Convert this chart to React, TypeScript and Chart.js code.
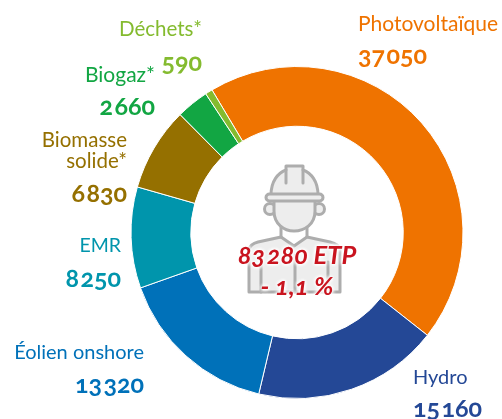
import React, { useEffect, useRef } from "react";
import { Chart, registerables } from "chart.js";

Chart.register(...registerables);

const categories = ["Photovoltaïque", "Hydro", "Éolien onshore", "EMR", "Biomasse solide*", "Biogaz*", "Déchets*"];
const values = [37050, 15160, 13320, 8250, 6830, 2660, 590];
const valueLabels = ["37\u200A050", "15\u200A160", "13\u200A320", "8\u200A250", "6\u200A830", "2\u200A660", "590"];
const colors = ["#EF7300", "#244896", "#0071B9", "#0095AC", "#957000", "#12A643", "#84BB2F"];
const total = "83\u200A280 ETP";
const change = "- 1,1 %";

type Pos = { side: "left" | "right"; x: number; nameY: number; valueY: number; nameSize: number; lines?: string[] };
const positions: Pos[] = [
  { side: "left", x: 358, nameY: 23, valueY: 54, nameSize: 21 },
  { side: "left", x: 413, nameY: 376, valueY: 407, nameSize: 20 },
  { side: "right", x: 144, nameY: 351, valueY: 383, nameSize: 20 },
  { side: "right", x: 121, nameY: 245, valueY: 277, nameSize: 19.5 },
  { side: "right", x: 127, nameY: 139, valueY: 192, nameSize: 20.5, lines: ["Biomasse", "solide*"] },
  { side: "right", x: 155, nameY: 74, valueY: 105, nameSize: 21 },
  { side: "right", x: 202, nameY: 28, valueY: 61, nameSize: 20.5 },
];

const FONT = "Lato, 'Open Sans', sans-serif";

function Label({ i }: { i: number }) {
  const p = positions[i];
  const base: React.CSSProperties = {
    position: "absolute",
    whiteSpace: "nowrap",
    color: colors[i],
    fontFamily: FONT,
    lineHeight: "22px",
    transform: "translateY(-50%)",
    ...(p.side === "left" ? { left: p.x } : { right: 502 - p.x }),
  };
  const lines = p.lines ?? [categories[i]];
  return (
    <>
      {lines.map((t, k) => (
        <div key={k} style={{ ...base, top: p.nameY + k * 21, fontSize: p.nameSize }}>{t}</div>
      ))}
      <div style={{ ...base, top: p.valueY, fontSize: 25, fontWeight: 700, fontVariantNumeric: "oldstyle-nums" }}>
        {valueLabels[i]}
      </div>
    </>
  );
}

function Worker() {
  const g = "#ADADAD";
  return (
    <svg width={502} height={419} style={{ position: "absolute", left: 0, top: 0 }}>
      <g fill="#EDEDED" stroke={g} strokeWidth={3} strokeLinejoin="round" strokeLinecap="round">
        <path d="M249 292 L249 250 Q250 244 258 242 L281 237 L294 246 L307 237 L330 242 Q339 244 340 250 L340 292 Z" />
        <path d="M281 226 L281 237 M307 226 L307 237" fill="none" />
        <path d="M261 292 L261 262 M295 292 L295 255 M328 292 L328 262" fill="none" />
        <circle cx={270} cy={209} r={5.5} />
        <circle cx={319} cy={209} r={5.5} />
        <path d="M274 198 L274 211 C274 224 284 231 294 231 C305 231 315 224 315 211 L315 198 Z" />
        <path d="M271 195 C271 181 278 173 286 170 L286 166 L303 166 L303 170 C311 173 318 181 318 195 Z" />
        <path d="M286 170 L286 183 M303 170 L303 183" fill="none" />
        <rect x={266} y={194} width={57} height={7} rx={3.5} />
      </g>
    </svg>
  );
}

export default function App() {
  const ref = useRef<HTMLCanvasElement | null>(null);
  useEffect(() => {
    const chart = new Chart(ref.current!, {
      type: "doughnut",
      data: {
        labels: categories,
        datasets: [{ data: values, backgroundColor: colors, borderColor: "#ffffff", borderWidth: 1 }],
      },
      options: {
        animation: false,
        responsive: false,
        cutout: "64%",
        rotation: -30.8,
        layout: { padding: { left: 130, right: 38, top: 66, bottom: 20 } },
        plugins: { legend: { display: false }, tooltip: { enabled: false } },
      },
    });
    return () => chart.destroy();
  }, []);

  const halo = "0 0 3px #fff, 0 0 3px #fff, 0 0 4px #fff, 0 0 4px #fff, 0 0 5px #fff";
  const center: React.CSSProperties = {
    position: "absolute",
    left: 197,
    width: 200,
    textAlign: "center",
    color: "#C9141F",
    fontFamily: FONT,
    fontWeight: 700,
    fontStyle: "italic",
    fontVariantNumeric: "oldstyle-nums",
    textShadow: halo,
    lineHeight: "28px",
    transform: "translateY(-50%)",
    whiteSpace: "nowrap",
  };

  return (
    <div style={{ position: "absolute", left: 0, top: 0, width: 502, height: 419, overflow: "hidden", background: "#fff" }}>
      <canvas ref={ref} width={502} height={419} style={{ position: "absolute", left: 0, top: 0 }} />
      <Worker />
      {categories.map((_, i) => <Label key={i} i={i} />)}
      <div style={{ ...center, top: 254, fontSize: 25.5 }}>{total}</div>
      <div style={{ ...center, top: 285, fontSize: 25.5 }}>{change}</div>
    </div>
  );
}
